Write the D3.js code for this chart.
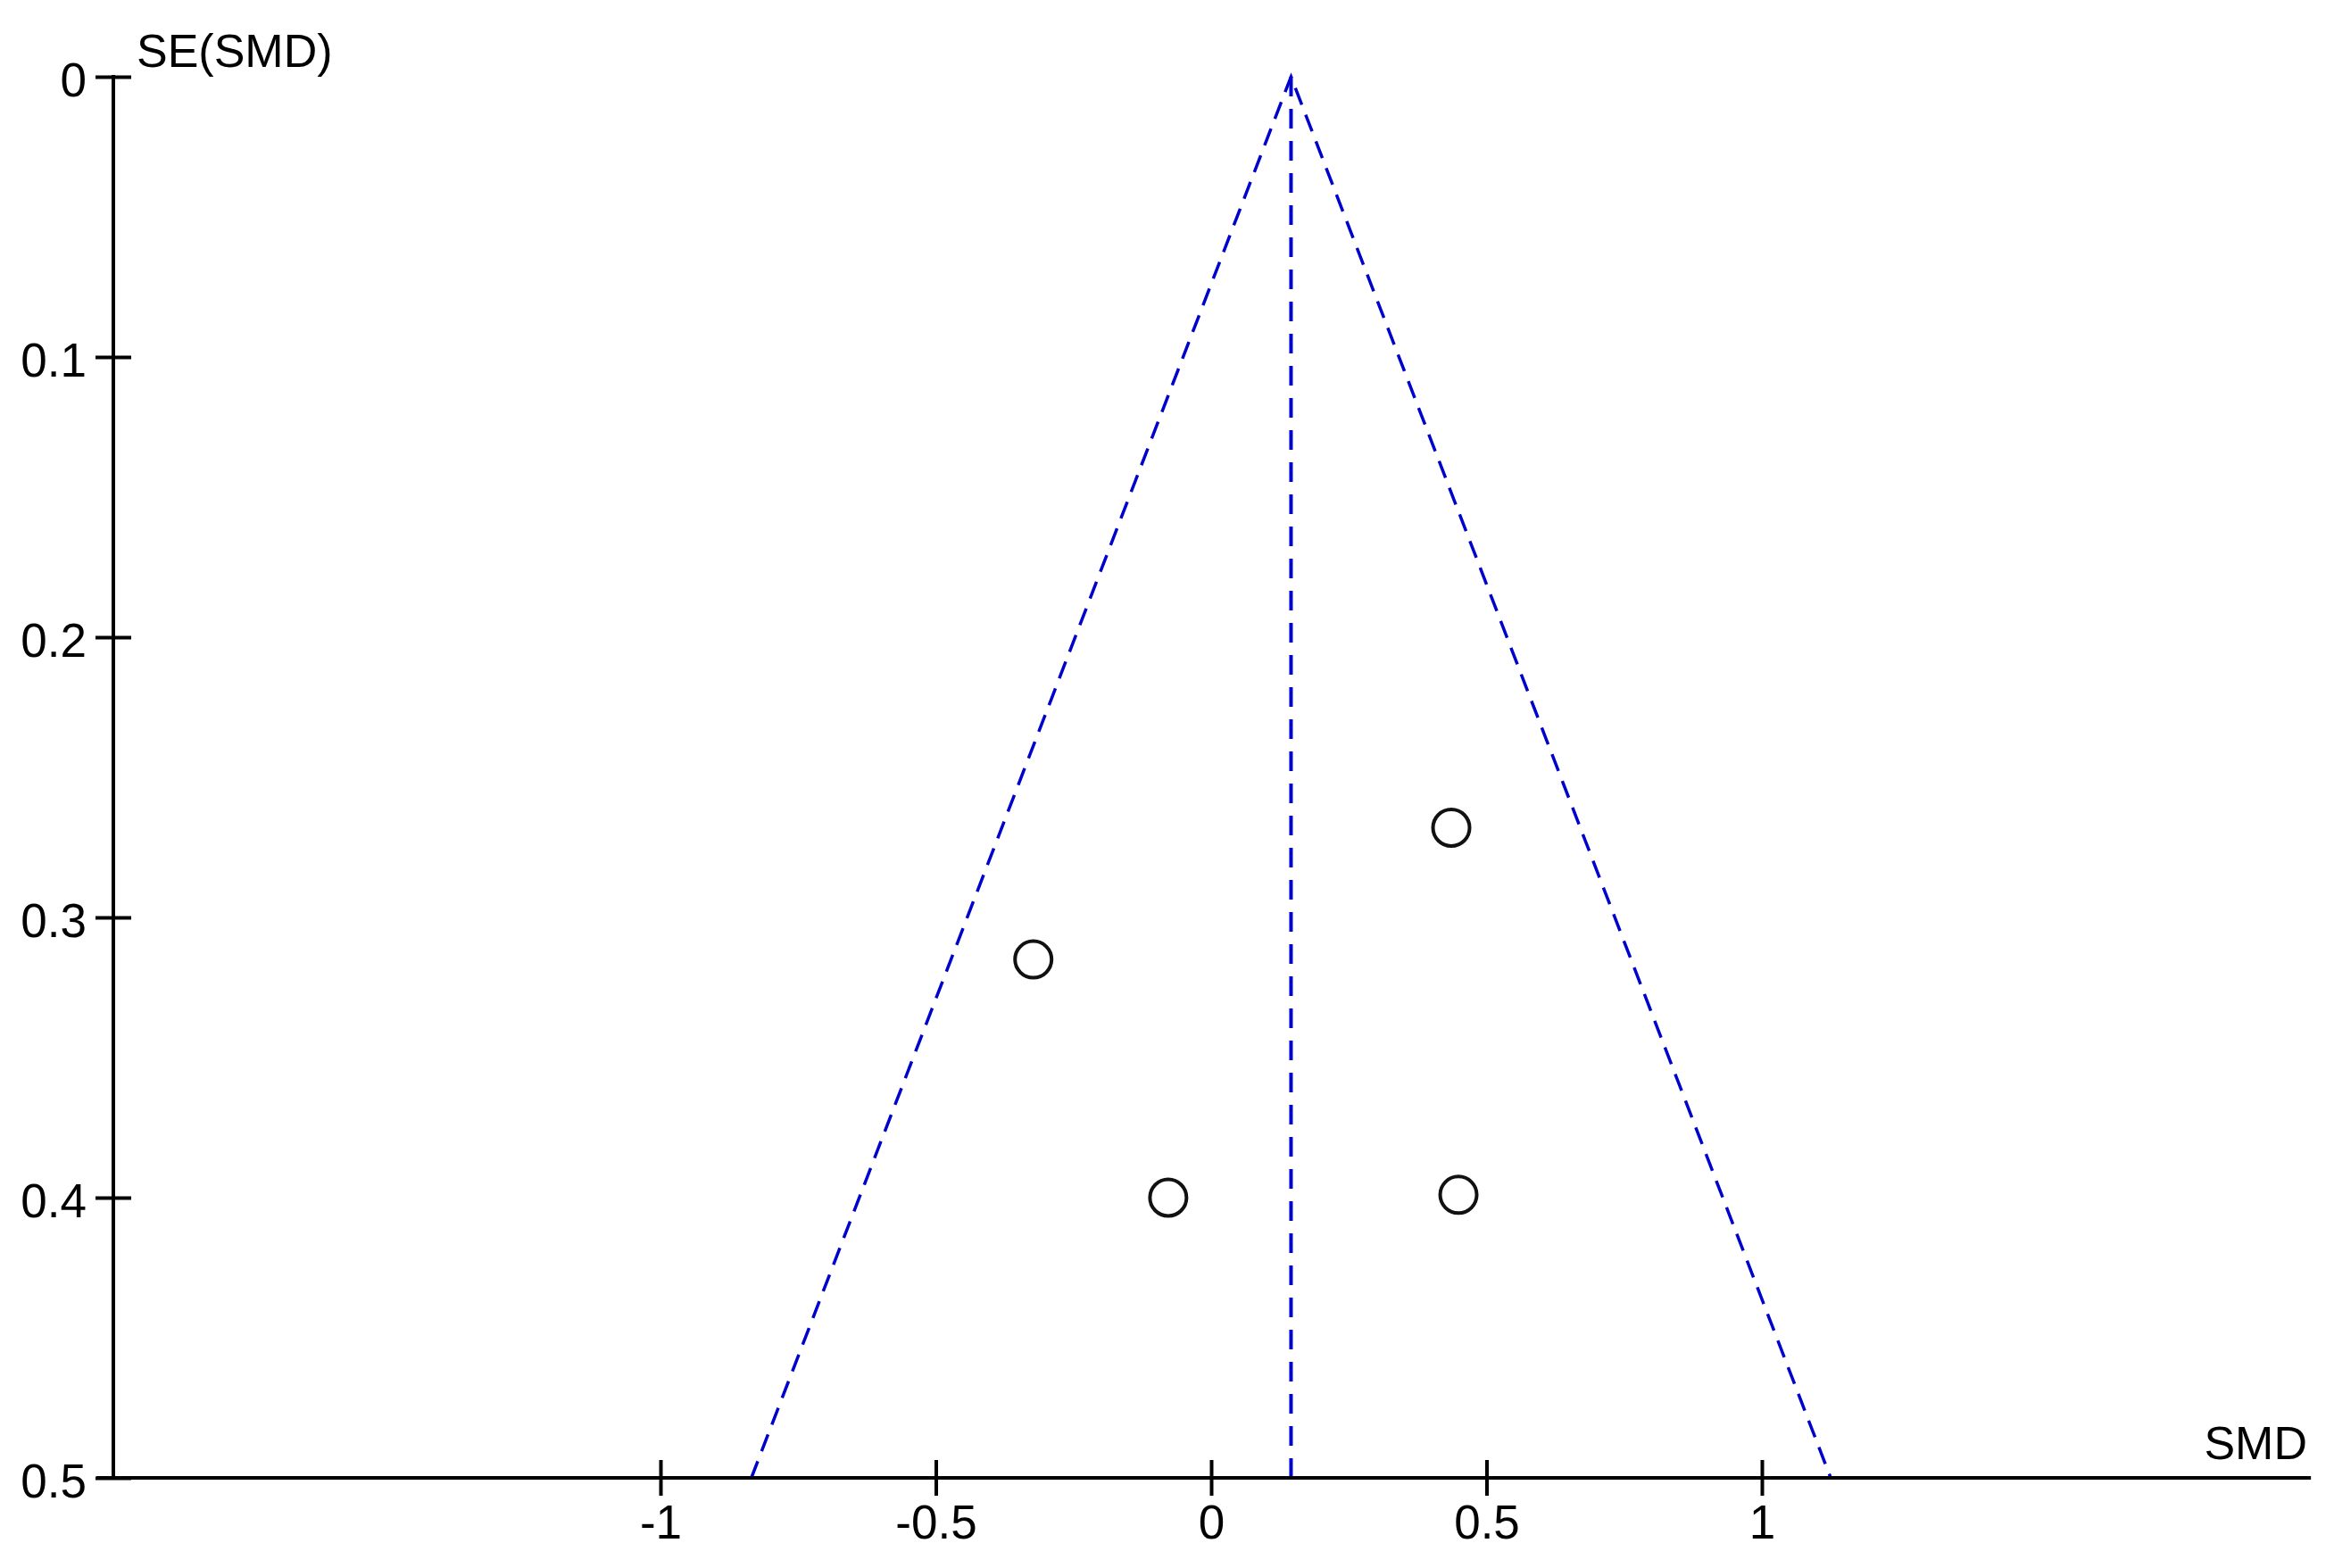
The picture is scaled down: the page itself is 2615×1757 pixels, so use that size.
<!DOCTYPE html>
<html>
<head>
<meta charset="utf-8">
<script src="https://cdn.jsdelivr.net/npm/d3@7/dist/d3.min.js"></script>
<style>
  html, body { margin: 0; padding: 0; background: #fff; }
  text { font-family: "Liberation Sans", Arial, sans-serif; fill: #000; }
</style>
</head>
<body>
<svg id="funnel" width="2615" height="1757"></svg>
<script>
// studies: standardized mean difference and its standard error
const smd = [0.436, -0.323, -0.078, 0.449],
    se = [0.268, 0.315, 0.400, 0.399],
    pooled = 0.145,
    xTicks = [-1, -0.5, 0, 0.5, 1],
    yTicks = [0, 0.1, 0.2, 0.3, 0.4, 0.5],
    xExtent = [-2.024, 1.997],
    lineColor = "#0000cd";

const svg = d3.select("#funnel");

const xScale = d3.scaleLinear().domain([-1, 1]).range([740, 1974]),
    yScale = d3.scaleLinear().domain([0, 0.5]).range([86, 1656]);

// funnel limits (95% pseudo confidence)
const seMax = d3.max(yTicks);
const funnel = [[pooled - 1.96 * seMax, seMax], [pooled, 0], [pooled + 1.96 * seMax, seMax]];

svg.append("path")
    .datum(funnel)
    .attr("d", d3.line().x(function(d) { return xScale(d[0]); }).y(function(d) { return yScale(d[1]); }))
    .attr("fill", "none")
    .attr("stroke", lineColor)
    .attr("stroke-width", 3.5)
    .attr("stroke-dasharray", "20,12");

svg.append("line")
    .attr("x1", xScale(pooled)).attr("x2", xScale(pooled))
    .attr("y1", yScale(0)).attr("y2", yScale(seMax))
    .attr("stroke", lineColor)
    .attr("stroke-width", 4)
    .attr("stroke-dasharray", "22,14");

// y axis
const yAxis = svg.append("g")
    .attr("transform", "translate(127,0)")
    .call(d3.axisLeft(yScale).tickValues(yTicks).tickFormat(function(d) { return String(d); }).tickSize(20).tickPadding(16));
yAxis.select(".domain").remove();
yAxis.selectAll(".tick line").attr("x1", -20).attr("x2", 20).attr("stroke-width", 4);
yAxis.selectAll(".tick text").attr("font-size", 53).attr("dy", "0.4em").attr("x", -30);
yAxis.append("line")
    .attr("x1", 0).attr("x2", 0)
    .attr("y1", yScale(0) - 2).attr("y2", yScale(seMax))
    .attr("stroke", "#000").attr("stroke-width", 4);
svg.append("text")
    .attr("x", 153).attr("y", 75)
    .attr("font-size", 52)
    .text("SE(SMD)");

// x axis
const xAxis = svg.append("g")
    .attr("transform", "translate(0," + yScale(seMax) + ")")
    .call(d3.axisBottom(xScale).tickValues(xTicks).tickFormat(function(d) { return String(d); }).tickSize(20).tickPadding(10));
xAxis.select(".domain").remove();
xAxis.selectAll(".tick line").attr("y1", -20).attr("y2", 20).attr("stroke-width", 4);
xAxis.selectAll(".tick text").attr("font-size", 53);
xAxis.append("line")
    .attr("x1", xScale(xExtent[0])).attr("x2", xScale(xExtent[1]))
    .attr("y1", 0).attr("y2", 0)
    .attr("stroke", "#000").attr("stroke-width", 4);
svg.append("text")
    .attr("x", 2585).attr("y", 1635)
    .attr("text-anchor", "end")
    .attr("font-size", 52)
    .text("SMD");

// study points
svg.append("g").selectAll("circle")
    .data(smd)
    .enter().append("circle")
    .attr("cx", function(d) { return xScale(d); })
    .attr("cy", function(d, i) { return yScale(se[i]); })
    .attr("r", 20.5)
    .attr("fill", "none")
    .attr("stroke", "#111")
    .attr("stroke-width", 4);
</script>
</body>
</html>
